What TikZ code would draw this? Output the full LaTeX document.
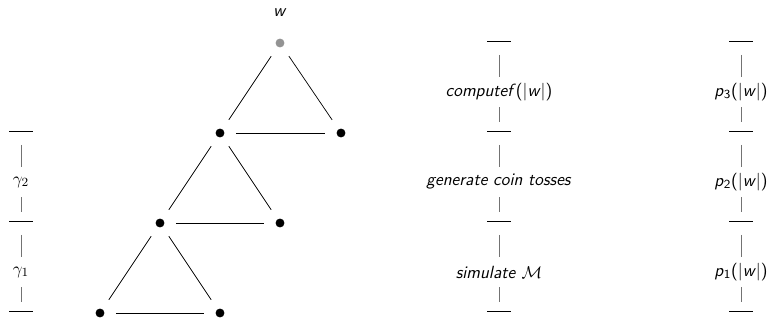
\documentclass[tikz,border=0pt]{standalone}
\usetikzlibrary{positioning,calc}
\begin{document}
\begin{tikzpicture}[
      x=0.0225cm, y=-0.0225cm,
      font=\sffamily\fontsize{11.3pt}{13pt}\selectfont,
      dot/.style={circle, fill=black, inner sep=0pt, minimum size=2mm},
      root/.style={dot, fill=gray!85},
      edge/.style={line width=0.45pt, shorten <=2.5mm, shorten >=2.5mm},
      bar/.style={inner sep=0pt, outer sep=0pt},
      lbl/.style={inner sep=1pt},
      tick/.style={draw=black!55, line width=0.5pt},
      uptick/.style={tick, shorten <=3.15mm, shorten >=3.4mm},
      downtick/.style={tick, shorten <=3.4mm, shorten >=2mm},
    ]
    \useasboundingbox (0,0) rectangle (770,320);

    % ---------- tree of triangles ----------
    \node[root] (w) at (280,43) {};
    \node (wlbl) at (280,13) {\textit{w}};
    \node[dot] (a1) at (220,133) {};
    \node[dot] (a2) at (341,133) {};
    \node[dot] (b1) at (160,223) {};
    \node[dot] (b2) at (280,223) {};
    \node[dot] (c1) at (100,313) {};
    \node[dot] (c2) at (220,313) {};

    \draw[edge] (w) -- (a1);
    \draw[edge] (w) -- (a2);
    \draw[edge] (a1) -- (a2);
    \draw[edge] (a1) -- (b1);
    \draw[edge] (a1) -- (b2);
    \draw[edge] (b1) -- (b2);
    \draw[edge] (b1) -- (c1);
    \draw[edge] (b1) -- (c2);
    \draw[edge] (c1) -- (c2);

    % ---------- bars ----------
    \foreach \col/\x in {m/499, p/741}
      \foreach \i in {0,...,3}
        \node[bar] (\col\i) at (\x,{41+90*\i}) {\rule{5.2mm}{0.6pt}};
    \foreach \i in {1,...,3}
      \node[bar] (l\i) at (21,{41+90*\i}) {\rule{5.2mm}{0.6pt}};

    % ---------- column labels ----------
    \node[lbl] (ms1) at (499,92)  {\textit{computef}(|\textit{w}|)};
    \node[lbl] (ms2) at (499,182) {\textit{generate coin tosses}};
    \node[lbl] (ms3) at (499,272) {\textit{simulate} $\mathcal{M}$};
    \node[lbl] (ps1) at (741,92)  {\textit{p}\textsubscript{3}(|\textit{w}|)};
    \node[lbl] (ps2) at (741,182) {\textit{p}\textsubscript{2}(|\textit{w}|)};
    \node[lbl] (ps3) at (741,272) {\textit{p}\textsubscript{1}(|\textit{w}|)};
    \node[lbl] (ls2) at (21,182)  {$\gamma_2$};
    \node[lbl] (ls3) at (21,272)  {$\gamma_1$};

    % ---------- ticks ----------
    \foreach \col in {m,p}
      \foreach \i [count=\j] in {0,1,2} {
        \draw[uptick] (\col\i.center) -- (\col s\j.center);
        \draw[downtick] (\col s\j.center) -- (\col\j.center);
      }
    \foreach \i [count=\j from 2] in {1,2} {
      \draw[uptick] (l\i.center) -- (ls\j.center);
      \draw[downtick] (ls\j.center) -- (l\j.center);
    }
  \end{tikzpicture}
\end{document}
